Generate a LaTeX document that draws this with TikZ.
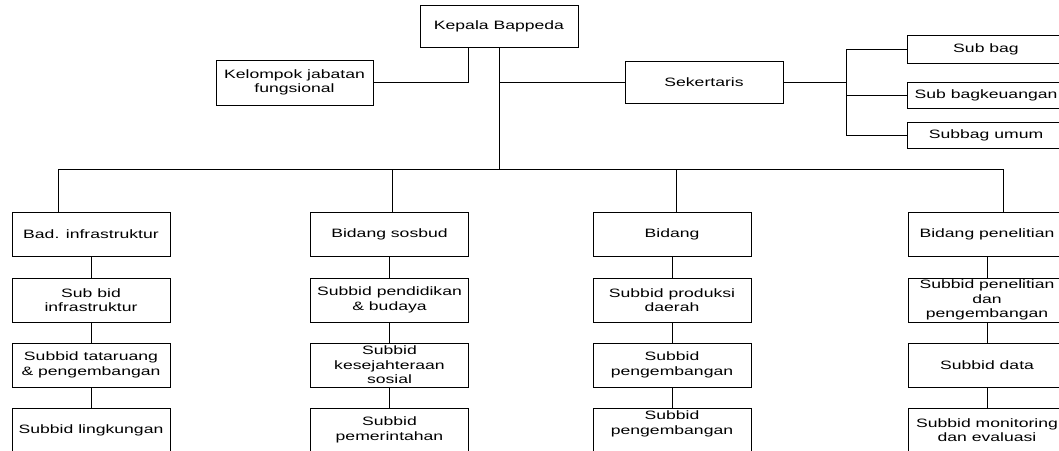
\documentclass[tikz,border=0pt]{standalone}
\usepackage{fontspec}
\setmainfont[FakeStretch=1.45]{Liberation Sans}

\tikzset{every picture/.style={line width=0.75pt}}
\tikzset{
  kotak/.style={draw, minimum width=118.5pt, minimum height=33pt, inner sep=0.75pt,
    align=center, font=\fontsize{9.1}{10.9}\selectfont},
  kotakkecil/.style={kotak, minimum height=19.5pt}
}

\begin{document}
\begin{tikzpicture}[x=0.75pt,y=0.75pt,yscale=-1,xscale=1]
    \useasboundingbox (0,0) rectangle (1059,450);
    \clip (0,0) rectangle (1059,450);
    % Pimpinan
    \node (kepala) [kotak, minimum height=31.5pt] at (499,26) {Kepala Bappeda};
    \node (kelompok) [kotak, minimum width=117.75pt, minimum height=33.75pt] at (294.5,82.5) {Kelompok jabatan\\fungsional};
    \node (sekertaris) [kotak, minimum height=31.5pt] at (704,82) {Sekertaris};
    % Sub bagian
    \node (subbag) [kotakkecil, minimum height=21pt] at (986,49) {Sub bag};
    \node (keuangan) [kotakkecil] at (986,95) {Sub bagkeuangan};
    \node (umum) [kotakkecil] at (986,135) {Subbag umum};
    % Bidang infrastruktur
    \node (infra) [kotak] at (91,234.5) {Bad. infrastruktur};
    \node (infraA) [kotak] at (91,300) {Sub bid\\infrastruktur};
    \node (infraB) [kotak] at (91,365) {Subbid tataruang\\\& pengembangan};
    \node (infraC) [kotak] at (91,430) {Subbid lingkungan};
    % Bidang sosbud
    \node (sosbud) [kotak] at (389.5,234.5) {Bidang sosbud};
    \node (sosbudA) [kotak] at (389.5,300) {Subbid pendidikan\\\& budaya};
    \node (sosbudB) [kotak] at (389.5,365) {Subbid\\kesejahteraan\\sosial};
    \node (sosbudC) [kotak] at (389.5,430) {Subbid\\pemerintahan};
    % Bidang
    \node (bidang) [kotak] at (672,234.5) {Bidang};
    \node (bidangA) [kotak] at (672,300) {Subbid produksi\\daerah};
    \node (bidangB) [kotak] at (672,365) {Subbid\\pengembangan};
    \node (bidangC) [kotak] at (672,430) {Subbid\\pengembangan\\~};
    % Bidang penelitian
    \node (teliti) [kotak] at (987,234.5) {Bidang penelitian};
    \node (telitiA) [kotak] at (987,300) {Subbid penelitian\\dan\\pengembangan};
    \node (telitiB) [kotak] at (987,365) {Subbid data};
    \node (telitiC) [kotak] at (987,430) {Subbid monitoring\\dan evaluasi};

    % titik bantu garis
    \coordinate (xk) at (468,0);
    \coordinate (cabang) at (846,82);
    \coordinate (tengah) at (499,169);
    \coordinate (bus1) at (58,169);
    \coordinate (bus2) at (392,169);
    \coordinate (bus3) at (676,169);
    \coordinate (bus4) at (1003,169);

    % Garis atas
    \draw (kepala.south -| xk) |- (kelompok.east);
    \draw (kepala.south) -- (tengah);
    \draw (kepala.south |- sekertaris.west) -- (sekertaris.west);
    \draw (sekertaris.east) -- (cabang);
    \draw (cabang |- subbag.west) -- (cabang |- umum.west);
    \foreach \n in {subbag,keuangan,umum}
        \draw (cabang |- \n.west) -- (\n.west);
    % Garis bidang
    \draw (bus1) -- (bus4);
    \draw (bus1) -- (bus1 |- infra.north);
    \draw (bus2) -- (bus2 |- sosbud.north);
    \draw (bus3) -- (bus3 |- bidang.north);
    \draw (bus4) -- (bus4 |- teliti.north);
    \foreach \b in {infra,sosbud,bidang,teliti} {
        \draw (\b.south) -- (\b A.north);
        \draw (\b A.south) -- (\b B.north);
        \draw (\b B.south) -- (\b C.north);
    }
\end{tikzpicture}
\end{document}
